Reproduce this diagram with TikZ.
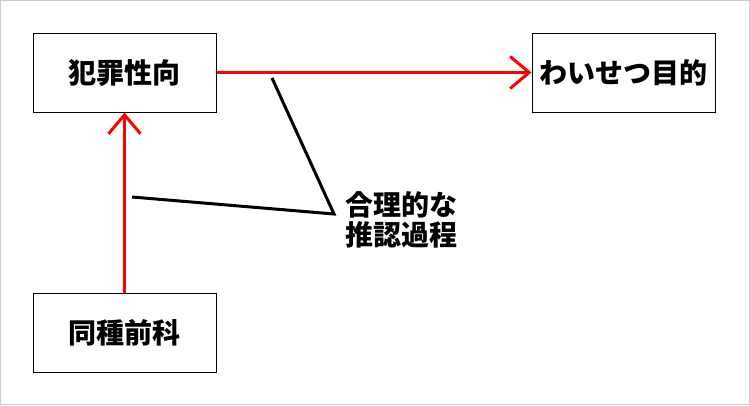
\documentclass[tikz,border=0pt]{standalone}
\usepackage{fontspec}
\newfontfamily\cjk{Noto Sans CJK JP}
\usetikzlibrary{arrows.meta}

\begin{document}
\begin{tikzpicture}[x=1pt,y=-1pt,
		box/.style={draw,line width=1pt,minimum width=183pt,minimum height=79pt,inner sep=0pt,font=\cjk\bfseries\fontsize{28}{30}\selectfont},
		infer/.style={red,line width=3pt,-{Straight Barb[length=19pt,width=32pt,line width=3pt]}}]
		\draw[gray!40,line width=1pt] (0.5,0.5) rectangle (749.5,404.5);
		\useasboundingbox (0,0) rectangle (750,405);
		\node[box] (tendency) at (124.5,72.5) {犯罪性向};
		\node[box] (purpose) at (623.5,72.5) {わいせつ目的};
		\node[box] (prior) at (124.5,332.5) {同種前科};
		\draw[infer] (tendency.east) -- (purpose.west);
		\draw[infer] (prior.north) -- (tendency.south);
		\coordinate (upper) at (272,78);
		\coordinate (bend) at (334,214);
		\coordinate (lower) at (132,197);
		\draw[line width=3pt] (upper) -- (bend) -- (lower);
		\node[anchor=north west,align=left,inner sep=0pt,font=\cjk\bfseries\fontsize{28}{30}\selectfont] (reason) at (345,191) {合理的な\\推認過程};
	\end{tikzpicture}
\end{document}
